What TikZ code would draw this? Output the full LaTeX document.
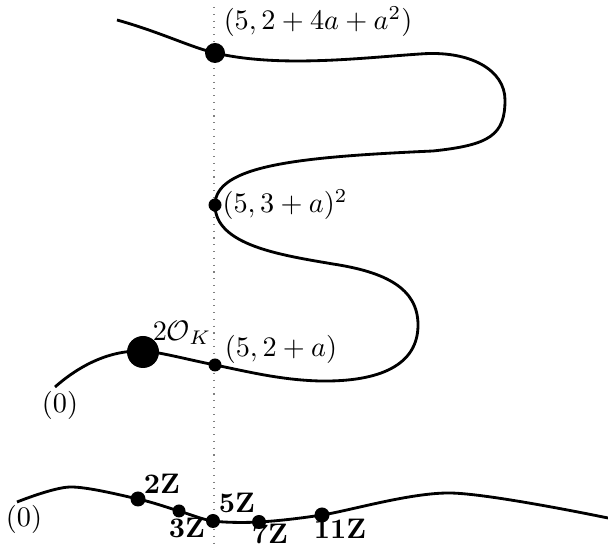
\documentclass[tikz,border=0pt]{standalone}
\usepackage{amsmath,amssymb}
\usepackage{tikz}
\usetikzlibrary{positioning}

\tikzset{
  spot/.style={circle,fill,inner sep=0pt,minimum size=0.354pt*#1},
  spot/.default=14,
  lbl/.style={inner sep=0pt},
  branch/.style={line width=1pt,line join=round}
}

\begin{document}
\begin{tikzpicture}[x=0.354pt,y=-0.354pt,every node/.style={font=\normalsize}]
    \useasboundingbox (0,0) rectangle (608,546);
    % Fibre over 5
    \coordinate (ftop) at (214,7);
    \coordinate (fbot) at (214,546);
    \draw[dotted,gray] (ftop) -- (fbot);
    % Upper curve
    \draw[branch] (117,20) .. controls (160,32) and (190,47) .. (215,53)
      .. controls (280,68) and (360,58) .. (420,54)
      .. controls (470,50) and (505,70) .. (505,100)
      .. controls (505,135) and (490,145) .. (433,151)
      .. controls (300,157) and (215,165) .. (215,205)
      .. controls (215,245) and (280,255) .. (333,264)
      .. controls (385,272) and (418,288) .. (418,325)
      .. controls (418,365) and (380,382) .. (320,381)
      .. controls (280,380) and (245,371) .. (215,365)
      .. controls (185,359) and (160,352) .. (143,351)
      .. controls (110,350) and (80,365) .. (55,387);
    \node[spot=20] (ptop) at (215,53) {};
    \node[spot=13] (pmid) at (215,205) {};
    \node[spot=13] (plow) at (215,365) {};
    \node[spot=32] (pok) at (143,352) {};
    \node[lbl] (ltop) at (318,22) {$(5,2+4a+a^2)$};
    \node[lbl] (lmid) at (285,205) {$(5,3+a)^2$};
    \node[lbl] (llow) at (281,349) {$(5,2+a)$};
    \node[lbl] (lok) at (182,333) {$2\mathcal{O}_K$};
    \node[lbl] (lzk) at (60,405) {$(0)$};
    % Lower curve
    \draw[branch] plot[smooth] coordinates {(17,502) (70,487) (138,499) (179,511)
      (213,521) (259,522) (322,515) (450,493) (608,518)};
    \node[spot=15] (p2) at (138,499) {};
    \node[spot=13] (p3) at (179,511) {};
    \node[spot=14] (p5) at (213,521) {};
    \node[spot=14] (p7) at (259,522) {};
    \node[spot=15] (p11) at (322,515) {};
    \node[lbl] (l2) at (162,484) {$\mathbf{2Z}$};
    \node[lbl] (l3) at (187,528) {$\mathbf{3Z}$};
    \node[lbl] (l5) at (237,503) {$\mathbf{5Z}$};
    \node[lbl] (l7) at (270,534) {$\mathbf{7Z}$};
    \node[lbl] (l11) at (340,529) {$\mathbf{11Z}$};
    \node[lbl] (lz) at (24,519) {$(0)$};
\end{tikzpicture}
\end{document}
